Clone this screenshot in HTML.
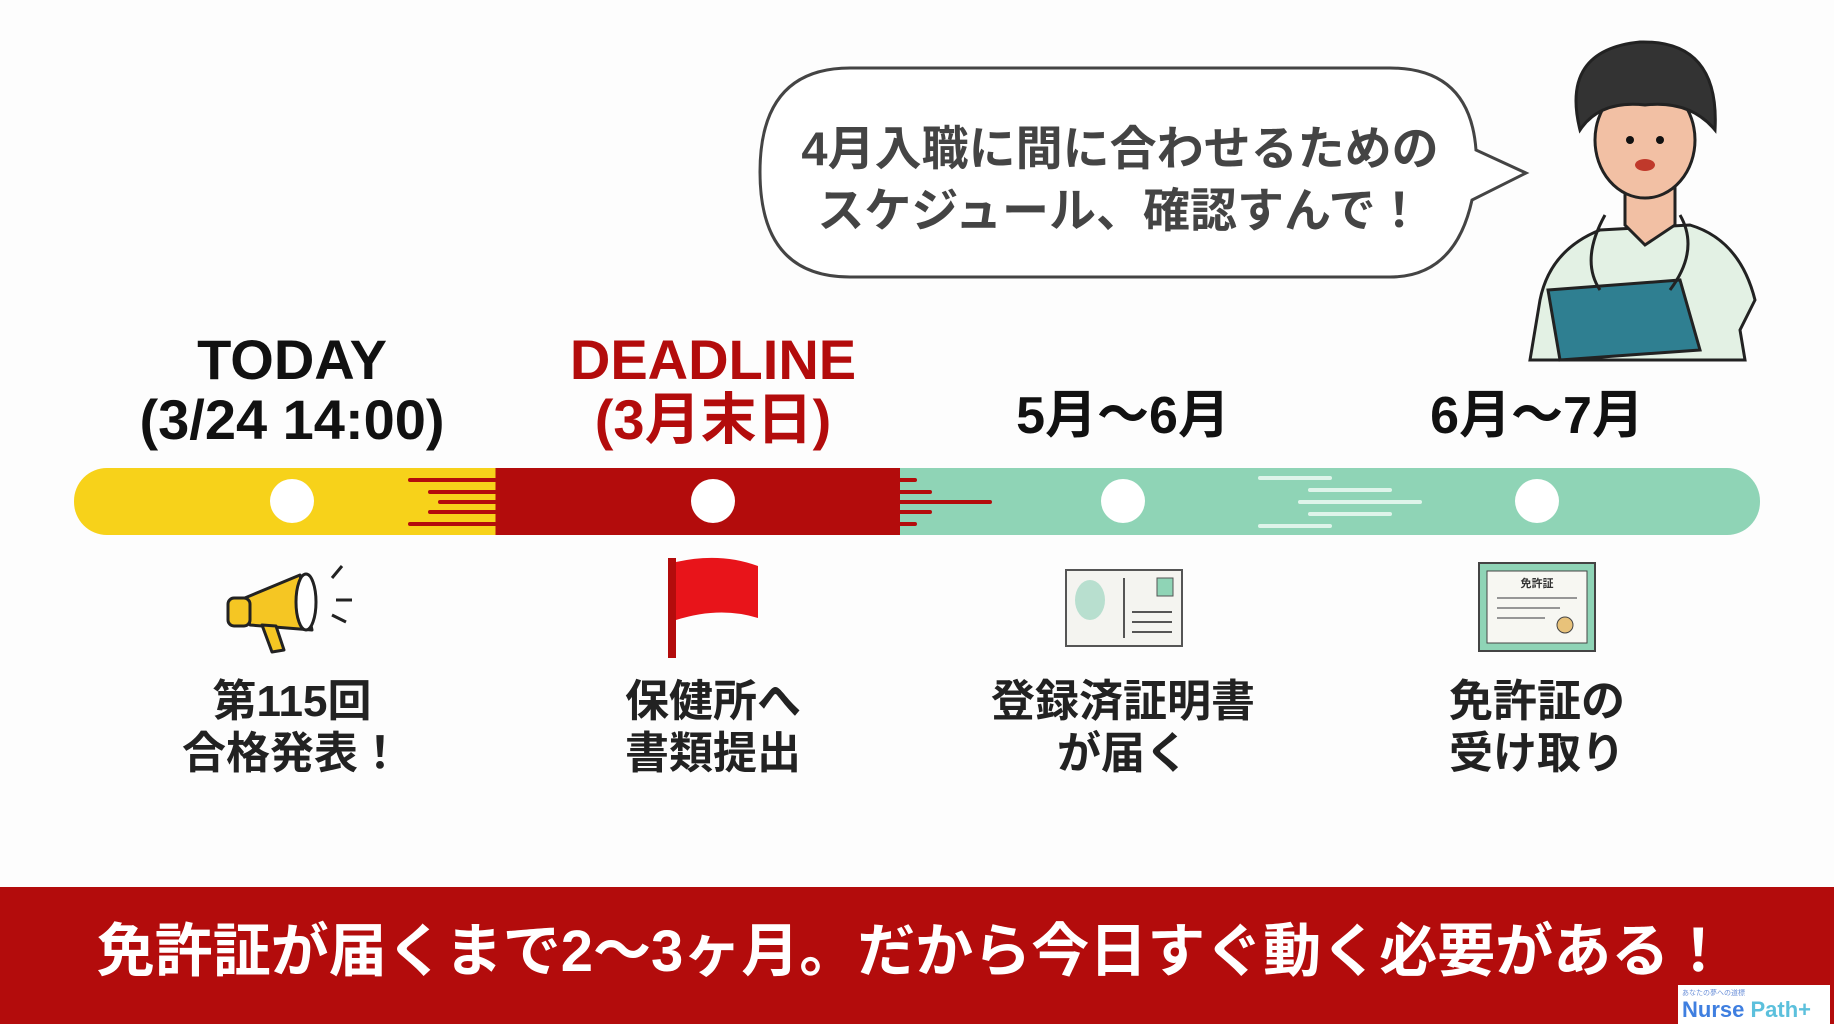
<!DOCTYPE html>
<html><head><meta charset="utf-8"><style>
body{margin:0;width:1834px;height:1024px;overflow:hidden;background:#fdfdfd;position:relative;font-family:"Liberation Sans","Noto Sans CJK JP",sans-serif;font-weight:bold}
.t{position:absolute;text-align:center;white-space:nowrap;transform:translateX(-50%);line-height:1}
</style></head><body>
<svg width="1834" height="1024" style="position:absolute;left:0;top:0">
<defs><linearGradient id="g" x1="0" x2="1"><stop offset="0" stop-color="#f7d21a"/><stop offset="0.25" stop-color="#f7d21a"/><stop offset="0.25" stop-color="#b30c0c"/><stop offset="0.49" stop-color="#b30c0c"/><stop offset="0.49" stop-color="#8fd4b6"/><stop offset="1" stop-color="#8fd4b6"/></linearGradient></defs>
<path d="M850 68 H1390 Q1470 68 1476 150 L1526 173 L1472 200 Q1455 277 1390 277 H850 Q760 277 760 172 Q760 68 850 68Z" fill="#fff" stroke="#444" stroke-width="3"/>
<rect x="74" y="468" width="1686" height="67" rx="33" fill="url(#g)"/>
<g stroke-width="4" stroke-linecap="round">
<line x1="410" y1="480" x2="495" y2="480" stroke="#b30c0c"/><line x1="430" y1="492" x2="505" y2="492" stroke="#b30c0c"/><line x1="440" y1="502" x2="570" y2="502" stroke="#b30c0c"/><line x1="430" y1="512" x2="510" y2="512" stroke="#b30c0c"/><line x1="410" y1="524" x2="495" y2="524" stroke="#b30c0c"/>
<line x1="830" y1="480" x2="915" y2="480" stroke="#b30c0c"/><line x1="850" y1="492" x2="930" y2="492" stroke="#b30c0c"/><line x1="860" y1="502" x2="990" y2="502" stroke="#b30c0c"/><line x1="850" y1="512" x2="930" y2="512" stroke="#b30c0c"/><line x1="830" y1="524" x2="915" y2="524" stroke="#b30c0c"/>
<line x1="1260" y1="478" x2="1330" y2="478" stroke="#dff4ea"/><line x1="1310" y1="490" x2="1390" y2="490" stroke="#dff4ea"/><line x1="1300" y1="502" x2="1420" y2="502" stroke="#dff4ea"/><line x1="1310" y1="514" x2="1390" y2="514" stroke="#dff4ea"/><line x1="1260" y1="526" x2="1330" y2="526" stroke="#dff4ea"/>
</g>
<g fill="#fff"><circle cx="292" cy="501" r="22"/><circle cx="713" cy="501" r="22"/><circle cx="1123" cy="501" r="22"/><circle cx="1537" cy="501" r="22"/></g>
<g stroke="#222" stroke-width="3" stroke-linejoin="round">
<path d="M240 600 L300 575 L312 630 L250 625Z" fill="#f5c623"/>
<ellipse cx="306" cy="602" rx="10" ry="28" fill="#fff"/>
<rect x="228" y="598" width="22" height="28" rx="6" fill="#f5c623"/>
<path d="M262 625 L272 652 L284 650 L276 626Z" fill="#f5c623"/>
<line x1="332" y1="578" x2="342" y2="566"/><line x1="336" y1="600" x2="352" y2="600"/><line x1="332" y1="615" x2="346" y2="622"/>
</g>
<rect x="668" y="558" width="8" height="100" fill="#b30c0c"/>
<path d="M676 562 Q720 552 758 566 L758 618 Q720 606 676 620Z" fill="#e8141a"/>
<rect x="1066" y="570" width="116" height="76" fill="#f4f4f0" stroke="#555" stroke-width="2"/>
<ellipse cx="1090" cy="600" rx="15" ry="20" fill="#b8dfcf"/>
<line x1="1124" y1="578" x2="1124" y2="638" stroke="#555" stroke-width="2"/>
<rect x="1157" y="578" width="16" height="18" fill="#8fd4b6" stroke="#555"/>
<g stroke="#555" stroke-width="2"><line x1="1132" y1="612" x2="1172" y2="612"/><line x1="1132" y1="622" x2="1172" y2="622"/><line x1="1132" y1="632" x2="1172" y2="632"/></g>
<rect x="1479" y="563" width="116" height="88" fill="#8fd4b6" stroke="#444" stroke-width="2"/>
<rect x="1487" y="571" width="100" height="72" fill="#f7f7f2" stroke="#444"/>
<text x="1537" y="587" font-size="11" text-anchor="middle" fill="#333" font-family="Noto Sans CJK JP">免許証</text>
<g stroke="#777" stroke-width="1.5"><line x1="1497" y1="598" x2="1577" y2="598"/><line x1="1497" y1="608" x2="1560" y2="608"/><line x1="1497" y1="618" x2="1545" y2="618"/></g>
<circle cx="1565" cy="625" r="8" fill="#e8c27a" stroke="#444"/>
<g stroke="#222" stroke-width="3">
<path d="M1530 360 L1540 300 Q1550 250 1600 230 L1690 225 Q1740 240 1755 300 L1740 330 L1745 360Z" fill="#e3f1e4"/>
<path d="M1625 180 L1625 225 L1645 245 L1675 225 L1675 180Z" fill="#f2c0a4"/>
<ellipse cx="1645" cy="140" rx="50" ry="58" fill="#f2c0a4"/>
<path d="M1580 130 Q1560 50 1640 42 Q1720 40 1715 130 Q1690 100 1645 105 Q1600 100 1580 130Z" fill="#333"/>
<path d="M1548 290 L1680 280 L1700 350 L1560 360Z" fill="#2f7f91"/>
<path d="M1605 215 Q1580 260 1600 290 M1680 215 Q1700 250 1670 290" fill="none"/>
</g>
<circle cx="1630" cy="140" r="4" fill="#111"/><circle cx="1660" cy="140" r="4" fill="#111"/>
<ellipse cx="1645" cy="165" rx="10" ry="6" fill="#c0392b"/>
<rect x="0" y="887" width="1834" height="137" fill="#b30c0c"/>
<rect x="1678" y="985" width="152" height="39" fill="#fff"/>
</svg>
<div class="t" style="left:1120px;top:118px;font-size:47px;color:#444;line-height:62px">4月入職に間に合わせるための<br>スケジュール、確認すんで！</div>
<div class="t" style="left:292px;top:330px;font-size:56px;color:#111;line-height:60px">TODAY<br>(3/24 14:00)</div>
<div class="t" style="left:713px;top:330px;font-size:56px;color:#b30c0c;line-height:60px">DEADLINE<br>(3月末日)</div>
<div class="t" style="left:1123px;top:390px;font-size:52px;color:#111">5月〜6月</div>
<div class="t" style="left:1537px;top:390px;font-size:52px;color:#111">6月〜7月</div>
<div class="t" style="left:292px;top:676px;font-size:44px;color:#222;line-height:52px">第115回<br>合格発表！</div>
<div class="t" style="left:713px;top:676px;font-size:44px;color:#222;line-height:52px">保健所へ<br>書類提出</div>
<div class="t" style="left:1123px;top:676px;font-size:44px;color:#222;line-height:52px">登録済証明書<br>が届く</div>
<div class="t" style="left:1537px;top:676px;font-size:44px;color:#222;line-height:52px">免許証の<br>受け取り</div>
<div class="t" style="left:912px;top:923px;font-size:58px;color:#fff">免許証が届くまで2〜3ヶ月。だから今日すぐ動く必要がある！</div>
<div style="position:absolute;left:1682px;top:988px;font-size:7px;color:#6a8fd8;font-weight:normal">あなたの夢への道標</div>
<div style="position:absolute;left:1682px;top:997px;font-size:22px;color:#3f7fe0;font-family:'Liberation Sans',sans-serif">Nurse <span style="color:#5cc0dc">Path+</span></div>
</body></html>
